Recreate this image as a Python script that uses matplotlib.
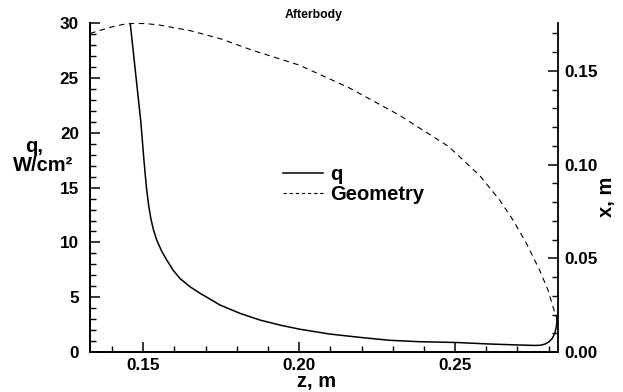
import matplotlib
matplotlib.use("Agg")
import matplotlib.pyplot as plt
from matplotlib.ticker import MultipleLocator, FormatStrFormatter
from matplotlib.lines import Line2D

plt.rcParams['font.family'] = ['Liberation Sans', 'DejaVu Sans']
plt.rcParams['font.weight'] = 'bold'

# Heat flux along the afterbody
z_q = [0.1458, 0.1475, 0.1492, 0.1502, 0.1510, 0.1517, 0.1524, 0.1532, 0.1543, 0.1558,
       0.1575, 0.1596, 0.1618, 0.1650, 0.1682, 0.1746, 0.1810, 0.1874, 0.1938,
       0.2002, 0.2098, 0.2194, 0.2290, 0.2387, 0.2504, 0.2611, 0.2707, 0.2755,
       0.2775, 0.2790, 0.2802, 0.2812, 0.2820, 0.2825, 0.2828]
q = [30.0, 25.5, 21.0, 17.5, 15.0, 13.4, 12.2, 11.2, 10.22, 9.25,
     8.40, 7.45, 6.70, 5.95, 5.36, 4.29, 3.53, 2.92, 2.46,
     2.08, 1.64, 1.34, 1.07, 0.94, 0.87, 0.73, 0.64, 0.60,
     0.62, 0.74, 0.95, 1.25, 1.71, 2.31, 3.08]

# Afterbody contour x(z)
z_geo = [0.1329, 0.1365, 0.1400, 0.1435, 0.1470, 0.1510, 0.1550, 0.1650, 0.1750,
         0.1850, 0.2000, 0.2160, 0.2320, 0.2480, 0.2580, 0.2643, 0.2686, 0.2729,
         0.2771, 0.2798, 0.2814, 0.2825, 0.2829]
x_geo = [0.1700, 0.1718, 0.1735, 0.1748, 0.1754, 0.1752, 0.1745, 0.1715, 0.1670,
         0.1610, 0.1531, 0.1410, 0.1265, 0.1096, 0.0940, 0.0811, 0.0704, 0.0580,
         0.0438, 0.0331, 0.0242, 0.0188, 0.0150]

fig = plt.figure(figsize=(6.23, 3.92), dpi=100)
ax = fig.add_axes([0.1445, 0.102, 0.7505, 0.8386])
ax2 = ax.twinx()

ax.plot(z_q, q, color='black', lw=1.1, solid_joinstyle='round')
ax2.plot(z_geo, x_geo, color='black', lw=0.8, dashes=(5, 4))

ax.set_xlim(0.1329, 0.2829)
ax.set_ylim(0, 30)
ax2.set_ylim(0, 0.1754)

ax.xaxis.set_major_locator(MultipleLocator(0.05))
ax.xaxis.set_minor_locator(MultipleLocator(0.01))
ax.xaxis.set_major_formatter(FormatStrFormatter('%.2f'))
ax.yaxis.set_major_locator(MultipleLocator(5))
ax.yaxis.set_minor_locator(MultipleLocator(1))
ax2.yaxis.set_major_locator(MultipleLocator(0.05))
ax2.yaxis.set_minor_locator(MultipleLocator(0.01))
ax2.yaxis.set_major_formatter(FormatStrFormatter('%.2f'))

for a in (ax, ax2):
    a.spines['top'].set_visible(False)
    for s in a.spines.values():
        s.set_linewidth(1.3)
    a.tick_params(which='major', direction='in', length=7, width=1.1,
                  labelsize=12.3, pad=5)
    a.tick_params(which='minor', direction='in', length=4, width=1.0)
    for lbl in a.get_xticklabels() + a.get_yticklabels():
        lbl.set_fontweight('bold')
ax.tick_params(axis='y', pad=8)
ax.tick_params(axis='x', pad=4)
ax.spines['right'].set_visible(False)

fig.text(0.508, 0.026, 'z, m', ha='center', va='center', fontsize=14.5, fontweight='bold')
fig.text(0.055, 0.625, 'q,', ha='center', va='center', fontsize=14.5, fontweight='bold')
fig.text(0.069, 0.578, 'W/cm²', ha='center', va='center', fontsize=14.5,
         fontweight='bold')
fig.text(0.974, 0.497, 'x, m', ha='center', va='center', rotation=90, fontsize=14.5,
         fontweight='bold')
fig.text(0.504, 0.961, 'Afterbody', ha='center', va='center', fontsize=8.8,
         fontweight='bold')

handles = [Line2D([], [], color='black', lw=1.1),
           Line2D([], [], color='black', lw=0.8, dashes=(3, 2.5))]
ax.legend(handles, ['q', 'Geometry'], loc='center left',
          bbox_to_anchor=(0.413, 0.51), frameon=False,
          handlelength=2.0, handletextpad=0.35, labelspacing=0.05,
          borderpad=0, borderaxespad=0, prop={'weight': 'bold', 'size': 14.5})

fig.savefig('out.png', dpi=100)
